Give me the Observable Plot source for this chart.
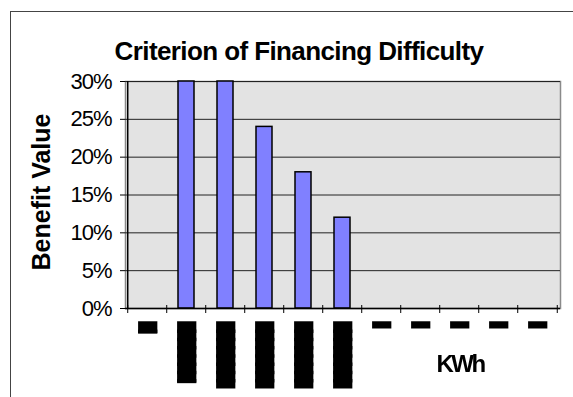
<!DOCTYPE html>
<html><head><meta charset="utf-8">
<script src="https://cdn.jsdelivr.net/npm/d3@7"></script>
<script src="https://cdn.jsdelivr.net/npm/@observablehq/plot@0.6"></script>
<style>
body{margin:0;background:#fff;}
#wrap{position:relative;width:573px;height:397px;overflow:hidden;font-family:"Liberation Sans",Arial,sans-serif;}
#frame{position:absolute;left:10px;top:11px;width:600px;height:400px;border-top:1px solid #444;border-left:1px solid #444;}
.t{position:absolute;white-space:nowrap;line-height:1;color:#000;font-weight:bold;}
#title{left:299px;top:51.4px;font-size:26px;letter-spacing:-0.6px;transform:translate(-50%,-50%);}
#ylab{left:40.5px;top:191.5px;font-size:25px;transform:translate(-50%,-50%) rotate(-90deg);}
#xlab{left:460px;top:364px;font-size:24px;letter-spacing:-2.5px;transform:translate(-50%,-50%);}
#chart{position:absolute;left:0;top:0;}
#chart [aria-label="y-axis tick label"]{letter-spacing:-1px;}
#chart [aria-label="text"]{text-rendering:geometricPrecision;will-change:transform;}
</style></head><body>
<div id="wrap">
<div id="frame"></div>
<div id="chart"></div>
<div class="t" id="title">Criterion of Financing Difficulty</div>
<div class="t" id="ylab">Benefit Value</div>
<div class="t" id="xlab">KWh</div>
</div>
<script>
// categories along the KWh axis (labels unreadable in the source: shown as solid blocks)
const categories = [1, 2, 3, 4, 5, 6, 7, 8, 9, 10, 11];
const tickLabels = ["█▏", "███████▏", "███████▊", "███████▊", "███████▊", "███████▊", "▌", "▌", "▌", "▌", "▌"];
const values = [0, 0.30, 0.30, 0.24, 0.18, 0.12, 0, 0, 0, 0, 0];
const yTicks = [0, 0.05, 0.10, 0.15, 0.20, 0.25, 0.30];

const W = 573, H = 397, mL = 125, mR = 13, mT = 81, mB = 89;
const step = (W - mL - mR) / categories.length;
const data = categories.map((c, i) => ({cat: c, value: values[i], label: tickLabels[i]}));
const last = categories[categories.length - 1];

const chart = Plot.plot({
  width: W, height: H,
  marginLeft: mL, marginRight: mR, marginTop: mT, marginBottom: mB,
  style: {fontFamily: "'Liberation Sans', Arial, sans-serif", fontSize: "22px", background: "transparent", color: "#000"},
  x: {type: "band", domain: categories, paddingInner: 0.58, paddingOuter: 0.29, axis: null},
  y: {domain: [0, 0.3], axis: null},
  marks: [
    Plot.frame({fill: "#e3e3e3", stroke: "#8a8a8a", strokeWidth: 1.5}),
    Plot.gridY(yTicks, {stroke: "#222", strokeOpacity: 1, strokeWidth: 1}),
    Plot.barY(data, {filter: d => d.value > 0, x: "cat", y: "value", fill: "#8080ff", stroke: "#000", strokeWidth: 1.5}),
    Plot.ruleY([0], {stroke: "#000", strokeWidth: 1.5}),
    Plot.ruleX([categories[0]], {dx: -step / 2, stroke: "#000", strokeWidth: 1.5}),
    Plot.ruleX(categories, {dx: -step / 2, y1: 0, y2: 0, insetTop: 5, insetBottom: 3, stroke: "#000"}),
    Plot.ruleX([last], {dx: step / 2, y1: 0, y2: 0, insetTop: 5, insetBottom: 3, stroke: "#000"}),
    Plot.axisY(yTicks, {tickFormat: d3.format(".0%"), tickSize: 5, tickPadding: 9, fontSize: 22, label: null, stroke: "#000"}),
    Plot.text(data, {x: "cat", text: "label", frameAnchor: "bottom", dy: 14.5, rotate: 90, textAnchor: "start", lineAnchor: "middle",
      fontFamily: "DejaVu Sans Mono", fontSize: 13.7, fill: "#000", stroke: "#000", strokeWidth: 3, strokeLinejoin: "miter"})
  ]
});
document.getElementById("chart").appendChild(chart);
</script>
</body></html>
